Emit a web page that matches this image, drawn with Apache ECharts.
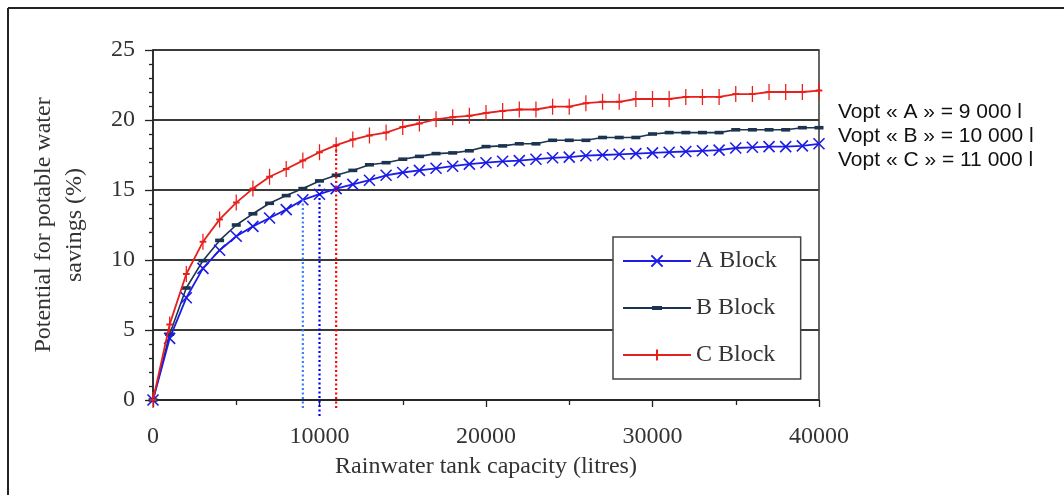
<!DOCTYPE html>
<html>
<head>
<meta charset="utf-8">
<script src="https://cdn.jsdelivr.net/npm/echarts@6/dist/echarts.min.js"></script>
<style>html,body{margin:0;padding:0;background:#fff;}#c{width:1064px;height:495px;}</style>
</head>
<body>
<div id="c"></div>
<script>
// Tank capacity (litres)
const capacity = [0,1000,2000,3000,4000,5000,6000,7000,8000,9000,10000,11000,12000,13000,14000,15000,16000,17000,18000,19000,20000,21000,22000,23000,24000,25000,26000,27000,28000,29000,30000,31000,32000,33000,34000,35000,36000,37000,38000,39000,40000];
// Potential for potable water savings (%)
const blockA = [0,4.4,7.3,9.4,10.7,11.7,12.4,13.0,13.6,14.3,14.7,15.1,15.4,15.7,16.05,16.25,16.4,16.55,16.7,16.85,16.95,17.05,17.1,17.2,17.3,17.35,17.45,17.5,17.55,17.6,17.65,17.7,17.75,17.8,17.85,18.0,18.05,18.1,18.1,18.15,18.3];
const blockB = [0,4.7,8.0,9.95,11.4,12.5,13.3,14.05,14.6,15.1,15.65,16.05,16.4,16.8,16.95,17.2,17.4,17.6,17.65,17.8,18.1,18.15,18.3,18.3,18.55,18.55,18.55,18.75,18.75,18.75,19.0,19.1,19.1,19.1,19.1,19.3,19.3,19.3,19.3,19.45,19.45];
const blockC = [0,5.4,9.0,11.3,12.9,14.1,15.1,15.95,16.5,17.1,17.7,18.2,18.6,18.9,19.1,19.5,19.75,20.05,20.2,20.3,20.5,20.65,20.75,20.75,20.95,20.95,21.2,21.3,21.3,21.5,21.5,21.5,21.65,21.65,21.65,21.85,21.85,22.0,22.0,22.0,22.1];
const seriesNames = ['A Block','B Block','C Block'];
// Optimal volumes (vertical dotted markers): x, bottom, top
const voptX = [9000, 10000, 11000];
const voptBottom = [-0.57, -1.14, -0.57];
const voptTop = [14.3, 15.4, 18.3];
const voptLabels = ['Vopt « A » = 9 000 l','Vopt « B » = 10 000 l','Vopt « C » = 11 000 l'];
const xTicks = [0,10000,20000,30000,40000];
const yTicks = [0,5,10,15,20,25];

const zip = (xs, ys) => xs.map((x, i) => [x, ys[i]]);
const serif = 'Liberation Serif';
const colA = '#1c1ce6', colB = '#1d3450', colC = '#e8201c';
const voptColors = ['#3d7dff', '#0000f0', '#ff0000'];

const chart = echarts.init(document.getElementById('c'), null, {renderer: 'canvas'});

// dash marker drawn inside a square box (corner moveTo points fix the bounding box)
const dashSymbol = 'path://M0,0M10,10M0.5,3.2L9.5,3.2L9.5,6.8L0.5,6.8Z';

const series = [
  {
    name: seriesNames[0], type: 'line', data: zip(capacity, blockA),
    symbol: 'path://M0,0L10,10M0,10L10,0', symbolSize: 11, symbolKeepAspect: true,
    itemStyle: {color: colA, borderColor: colA, borderWidth: 1.6},
    lineStyle: {color: colA, width: 1.8}, z: 3
  },
  {
    name: seriesNames[1], type: 'line', data: zip(capacity, blockB),
    symbol: dashSymbol, symbolSize: 10,
    itemStyle: {color: colB},
    lineStyle: {color: colB, width: 1.6}, z: 2
  },
  {
    name: seriesNames[2], type: 'line', data: zip(capacity, blockC),
    symbol: 'path://M6,0L6,18M0,9L12,9', symbolSize: [10, 16], symbolKeepAspect: true,
    itemStyle: {color: colC, borderColor: colC, borderWidth: 1.6},
    lineStyle: {color: colC, width: 1.8}, z: 4
  }
];
voptX.forEach((x, i) => {
  series.push({
    name: 'vopt' + i, type: 'line', clip: false, symbol: 'none', silent: true,
    data: [[x, voptBottom[i]], [x, voptTop[i]]],
    lineStyle: {color: voptColors[i], width: 2.2, type: [2, 2.5]}, z: 5
  });
});

const graphics = [
  {type: 'line', shape: {x1: 8, y1: 8, x2: 1064, y2: 8}, style: {stroke: '#222', lineWidth: 2}},
  {type: 'line', shape: {x1: 8, y1: 8, x2: 8, y2: 495}, style: {stroke: '#222', lineWidth: 2}},
  {type: 'text', x: 59, y: 225, rotation: Math.PI / 2,
   style: {text: 'Potential for potable water\nsavings (%)', font: '24px "Liberation Serif"', fill: '#333',
           align: 'center', verticalAlign: 'middle', lineHeight: 31}}
];
voptLabels.forEach((t, i) => {
  graphics.push({type: 'text', x: 838, y: 112 + i * 24,
    style: {text: t, font: '21px "Liberation Sans"', fill: '#111', verticalAlign: 'middle', align: 'left'}});
});

chart.setOption({
  animation: false,
  backgroundColor: '#fff',
  grid: {left: 153, right: 245, top: 50, bottom: 95, show: true, borderColor: '#333', borderWidth: 1.5, backgroundColor: 'transparent'},
  legend: {
    data: seriesNames, orient: 'vertical', left: 613, top: 237,
    padding: [12, 24, 12, 9], itemGap: 23, itemWidth: 68, itemHeight: 14,
    backgroundColor: '#fff', borderColor: '#444', borderWidth: 1.5,
    textStyle: {fontFamily: serif, fontSize: 24, color: '#333', lineHeight: 24}
  },
  xAxis: {
    type: 'value', min: xTicks[0], max: xTicks[xTicks.length - 1], interval: 10000,
    name: 'Rainwater tank capacity (litres)', nameLocation: 'middle', nameGap: 55,
    nameTextStyle: {fontFamily: serif, fontSize: 24, color: '#333'},
    axisLine: {show: true, lineStyle: {color: '#222', width: 1.5}},
    axisTick: {show: true, length: 7, lineStyle: {color: '#222', width: 1.3}},
    minorTick: {show: true, splitNumber: 2, length: 5, lineStyle: {color: '#222', width: 1.3}},
    axisLabel: {fontFamily: serif, fontSize: 24, color: '#333', margin: 25, formatter: v => String(v)},
    splitLine: {show: false}
  },
  yAxis: {
    type: 'value', min: yTicks[0], max: yTicks[yTicks.length - 1], interval: 5,
    axisLine: {show: true, lineStyle: {color: '#222', width: 1.5}},
    axisTick: {show: true, length: 8, lineStyle: {color: '#222', width: 1.3}},
    minorTick: {show: true, splitNumber: 5, length: 4, lineStyle: {color: '#222', width: 1.3}},
    axisLabel: {fontFamily: serif, fontSize: 24, color: '#333', margin: 18, formatter: v => String(v)},
    splitLine: {show: true, lineStyle: {color: '#3a3a3a', width: 1.8}}
  },
  series: series,
  graphic: graphics
});
</script>
</body>
</html>
